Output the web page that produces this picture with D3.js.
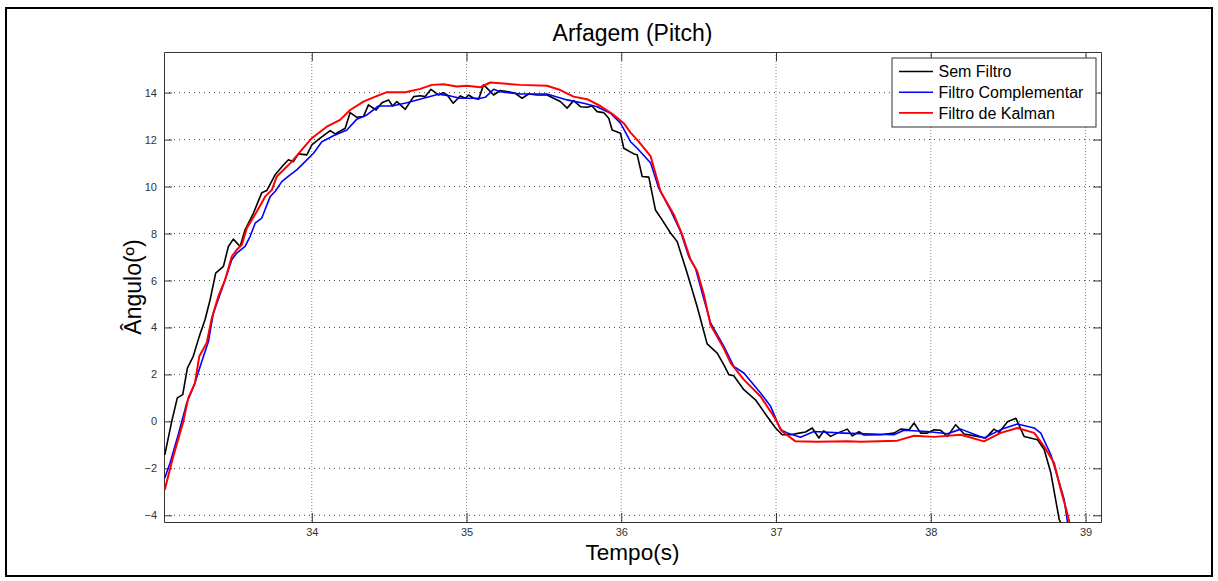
<!DOCTYPE html>
<html>
<head>
<meta charset="utf-8">
<script src="https://cdn.jsdelivr.net/npm/d3@7"></script>
<style>
  body { margin: 0; background: #fff; }
  text { font-family: "Liberation Sans", Arial, sans-serif; }
</style>
</head>
<body>
<div id="chart"></div>
<script>
// Sem Filtro (black)
let tempoSem = [33.05,33.095,33.131,33.166,33.196,33.234,33.273,33.31,33.343,33.379,33.429,33.461,33.493,33.537,33.569,33.623,33.677,33.709,33.763,33.817,33.849,33.881,33.914,33.968,34.0,34.054,34.119,34.151,34.216,34.248,34.291,34.334,34.366,34.416,34.453,34.496,34.522,34.55,34.604,34.658,34.701,34.733,34.77,34.819,34.848,34.875,34.914,34.96,34.992,35.013,35.046,35.078,35.11,35.132,35.175,35.218,35.272,35.315,35.359,35.401,35.456,35.52,35.563,35.606,35.65,35.692,35.736,35.779,35.811,35.844,35.886,35.919,35.941,35.995,36.016,36.081,36.103,36.135,36.178,36.221,36.264,36.318,36.361,36.426,36.49,36.555,36.62,36.663,36.695,36.727,36.792,36.867,36.943,36.997,37.04,37.094,37.158,37.191,37.234,37.277,37.309,37.353,37.396,37.461,37.493,37.536,37.568,37.676,37.762,37.806,37.86,37.892,37.935,37.978,38.021,38.064,38.108,38.161,38.215,38.302,38.355,38.409,38.441,38.496,38.55,38.603,38.69,38.733,38.776,38.83,38.845];
let anguloSem = [-1.42,0.0,1.0,1.14,2.27,2.77,3.62,4.33,5.18,6.31,6.6,7.45,7.76,7.45,8.16,8.87,9.74,9.83,10.5,10.92,11.14,11.06,11.39,11.35,11.77,12.06,12.38,12.24,12.48,13.15,12.95,12.98,13.48,13.26,13.57,13.69,13.43,13.62,13.29,13.83,13.87,13.83,14.14,13.9,14.0,13.9,13.55,13.86,13.76,13.9,13.76,13.72,14.33,14.19,13.9,14.09,14.04,13.97,13.76,13.94,13.9,13.9,13.76,13.62,13.34,13.66,13.4,13.38,13.43,13.19,13.15,12.91,12.41,12.27,11.63,11.39,11.35,10.43,10.4,9.0,8.58,8.02,7.66,6.31,4.89,3.3,2.91,2.41,1.99,1.94,1.35,0.92,0.21,-0.28,-0.57,-0.57,-0.49,-0.45,-0.28,-0.71,-0.4,-0.64,-0.5,-0.33,-0.62,-0.44,-0.58,-0.57,-0.5,-0.33,-0.36,-0.07,-0.5,-0.5,-0.36,-0.38,-0.64,-0.14,-0.54,-0.64,-0.71,-0.33,-0.47,-0.02,0.13,-0.64,-0.78,-1.2,-2.2,-4.18,-4.4];

// Filtro Complementar (blue)
let tempoComp = [33.05,33.084,33.137,33.192,33.245,33.289,33.332,33.364,33.429,33.483,33.515,33.569,33.601,33.634,33.677,33.731,33.763,33.806,33.86,33.903,33.957,34.011,34.065,34.14,34.227,34.291,34.356,34.431,34.518,34.615,34.722,34.819,34.895,34.959,35.089,35.121,35.175,35.218,35.348,35.52,35.65,35.757,35.844,35.93,35.995,36.06,36.103,36.19,36.242,36.318,36.383,36.436,36.479,36.523,36.577,36.663,36.727,36.792,36.9,36.965,37.029,37.073,37.158,37.245,37.439,37.762,37.827,37.978,38.108,38.194,38.344,38.452,38.56,38.668,38.711,38.776,38.83,38.862,38.886];
let anguloComp = [-2.41,-1.77,-0.57,0.78,1.63,2.55,3.4,4.61,5.82,6.88,7.17,7.45,7.87,8.44,8.66,9.57,9.79,10.21,10.5,10.71,11.06,11.42,11.91,12.16,12.41,12.87,13.05,13.43,13.43,13.57,13.76,13.93,13.86,13.76,13.76,13.8,14.14,14.04,13.94,13.94,13.69,13.55,13.4,13.12,12.7,11.91,11.63,11.0,9.93,9.0,8.09,7.02,6.53,5.46,4.19,3.19,2.34,2.06,1.21,0.64,-0.35,-0.49,-0.68,-0.43,-0.5,-0.57,-0.38,-0.43,-0.53,-0.33,-0.71,-0.35,-0.11,-0.28,-0.5,-1.42,-2.6,-3.33,-4.4];

// Filtro de Kalman (red)
let tempoKal = [33.05,33.105,33.17,33.202,33.245,33.273,33.321,33.354,33.396,33.44,33.483,33.515,33.548,33.58,33.645,33.698,33.742,33.774,33.828,33.871,33.925,34.0,34.097,34.183,34.248,34.334,34.399,34.485,34.604,34.701,34.777,34.852,34.938,35.003,35.089,35.153,35.348,35.52,35.606,35.692,35.779,35.865,35.951,36.016,36.06,36.113,36.19,36.254,36.34,36.394,36.448,36.49,36.534,36.577,36.663,36.706,36.792,36.9,36.986,37.04,37.126,37.267,37.461,37.547,37.784,37.892,38.021,38.194,38.344,38.452,38.56,38.668,38.732,38.797,38.84,38.873,38.9];
let anguloKal = [-2.91,-1.49,0.0,1.0,1.63,2.77,3.34,4.4,5.32,6.03,7.02,7.31,7.52,8.23,8.94,9.57,9.86,10.43,10.78,11.06,11.49,12.06,12.55,12.84,13.26,13.62,13.8,14.02,14.02,14.16,14.33,14.36,14.26,14.29,14.23,14.43,14.33,14.29,14.11,13.83,13.72,13.43,13.05,12.7,12.3,11.91,11.28,9.79,8.8,7.94,6.88,6.4,5.39,4.1,3.1,2.49,1.78,1.06,0.21,-0.43,-0.85,-0.87,-0.85,-0.87,-0.82,-0.61,-0.66,-0.57,-0.85,-0.49,-0.28,-0.49,-1.06,-1.77,-2.91,-3.69,-4.4];

let xTicks = [34, 35, 36, 37, 38, 39];
let yTicks = [-4, -2, 0, 2, 4, 6, 8, 10, 12, 14];
let seriesNames = ["Sem Filtro", "Filtro Complementar", "Filtro de Kalman"];
let seriesColors = ["#000000", "#0000ff", "#ff0000"];

let width = 1218;
let height = 581;
let margin = ({top: 52, right: 117, bottom: 59, left: 164});

let series = [
    {name: seriesNames[0], color: seriesColors[0], w: 1.6, pts: tempoSem.map((t, i) => ({x: t, y: anguloSem[i]}))},
    {name: seriesNames[1], color: seriesColors[1], w: 1.6, pts: tempoComp.map((t, i) => ({x: t, y: anguloComp[i]}))},
    {name: seriesNames[2], color: seriesColors[2], w: 2, pts: tempoKal.map((t, i) => ({x: t, y: anguloKal[i]}))}
];

let x = d3.scaleLinear()
    .domain([33.045, 39.10])
    .range([margin.left, width - margin.right]);
let y = d3.scaleLinear()
    .domain([-4.285, 15.73])
    .range([height - margin.bottom, margin.top]);

let svg = d3.select("#chart")
    .append("svg")
    .attr("width", width)
    .attr("height", height);

// outer frame
svg.append("rect")
    .attr("x", 6).attr("y", 8)
    .attr("width", width - 12).attr("height", height - 13)
    .attr("fill", "#fff")
    .attr("stroke", "#000")
    .attr("stroke-width", 2);

let x0 = margin.left, x1 = width - margin.right;
let y0 = height - margin.bottom, y1 = margin.top;

// grid
svg.append("g")
    .selectAll("line")
    .data(xTicks)
    .join("line")
    .attr("x1", d => x(d)).attr("x2", d => x(d))
    .attr("y1", y1).attr("y2", y0)
    .attr("stroke", "#8a8a8a")
    .attr("stroke-dasharray", "1,2");
svg.append("g")
    .selectAll("line")
    .data(yTicks)
    .join("line")
    .attr("x1", x0).attr("x2", x1)
    .attr("y1", d => y(d)).attr("y2", d => y(d))
    .attr("stroke", "#444")
    .attr("stroke-dasharray", "1,4");

// axes (inward ticks on all four sides)
let axisColor = "#333";
let xAxis = g => g
    .attr("transform", `translate(0,${y0})`)
    .call(d3.axisBottom(x).tickValues(xTicks).tickFormat(d3.format("d")).tickSizeInner(-9).tickSizeOuter(0).tickPadding(6))
    .call(g => g.selectAll("text").attr("font-size", 11).attr("fill", "#333"));
let xAxisTop = g => g
    .attr("transform", `translate(0,${y1})`)
    .call(d3.axisTop(x).tickValues(xTicks).tickSizeInner(-9).tickSizeOuter(0).tickFormat(""));
let yAxis = g => g
    .attr("transform", `translate(${x0},0)`)
    .call(d3.axisLeft(y).tickValues(yTicks).tickSizeInner(-8).tickSizeOuter(0).tickPadding(7))
    .call(g => g.selectAll("text").attr("font-size", 11).attr("fill", "#333"));
let yAxisRight = g => g
    .attr("transform", `translate(${x1},0)`)
    .call(d3.axisRight(y).tickValues(yTicks).tickSizeInner(-8).tickSizeOuter(0).tickFormat(""));

[xAxis, xAxisTop, yAxis, yAxisRight].forEach(a => {
    svg.append("g").call(a)
        .call(g => g.selectAll(".domain,line").attr("stroke", axisColor))
        .call(g => g.selectAll("text").attr("font-family", "Liberation Sans, Arial, sans-serif"));
});

// lines
svg.append("clipPath").attr("id", "clip")
    .append("rect")
    .attr("x", x0).attr("y", y1)
    .attr("width", x1 - x0).attr("height", y0 - y1);

let line = d3.line().x(d => x(d.x)).y(d => y(d.y));

svg.append("g")
    .attr("clip-path", "url(#clip)")
    .selectAll("path")
    .data(series)
    .join("path")
    .attr("fill", "none")
    .attr("stroke", d => d.color)
    .attr("stroke-width", d => d.w)
    .attr("stroke-linejoin", "round")
    .attr("d", d => line(d.pts));

// titles
svg.append("text")
    .attr("x", (x0 + x1) / 2).attr("y", 41)
    .attr("text-anchor", "middle")
    .attr("font-size", 23)
    .text("Arfagem (Pitch)");
svg.append("text")
    .attr("x", (x0 + x1) / 2).attr("y", 560)
    .attr("text-anchor", "middle")
    .attr("font-size", 22.5)
    .text("Tempo(s)");
svg.append("text")
    .attr("transform", `translate(141,${(y0 + y1) / 2}) rotate(-90)`)
    .attr("text-anchor", "middle")
    .attr("font-size", 23)
    .text("Ângulo(º)");

// legend
let legend = svg.append("g").attr("transform", "translate(892,58)");
legend.append("rect")
    .attr("width", 204).attr("height", 69)
    .attr("fill", "#fff")
    .attr("stroke", "#333");
let item = legend.selectAll("g")
    .data(series)
    .join("g")
    .attr("transform", (d, i) => `translate(0,${13.5 + i * 20.7})`);
item.append("line")
    .attr("x1", 7).attr("x2", 41)
    .attr("stroke", d => d.color)
    .attr("stroke-width", 1.6);
item.append("text")
    .attr("x", 46.5).attr("dy", "0.36em")
    .attr("font-size", 16)
    .text(d => d.name);
</script>
</body>
</html>
